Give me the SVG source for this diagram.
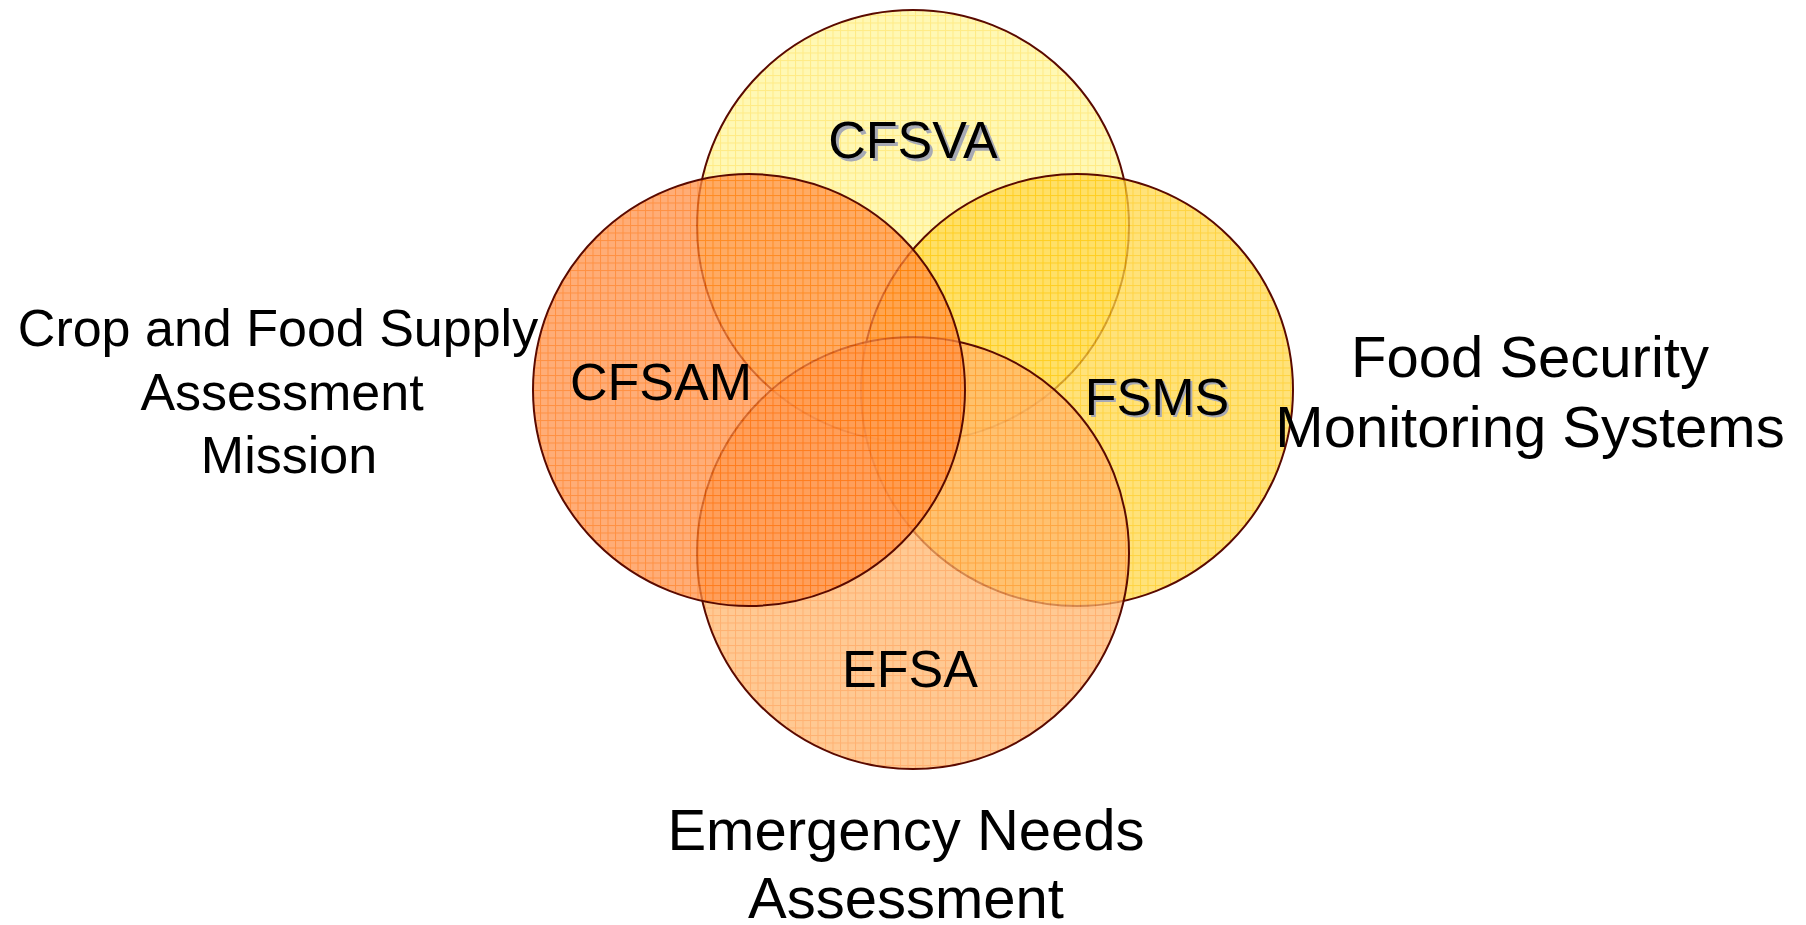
<svg xmlns="http://www.w3.org/2000/svg" width="1806" height="925" viewBox="0 0 1806 925">
<style>
  .circ { stroke: #5A0A00; stroke-width: 2; fill-opacity: 0.74; }
  .lbl { font-family: "Liberation Sans", Arial, sans-serif; font-size: 52px; fill: #000; text-anchor: middle; }
  .shadow { fill: #A7A9B4; }
  .outer { font-family: "Liberation Sans", Arial, sans-serif; fill: #000; text-anchor: middle; }
</style>
<defs>
  <pattern id="pTop" width="7.5" height="7.5" patternUnits="userSpaceOnUse">
    <rect width="7.5" height="7.5" fill="#FFF59A"/>
    <rect width="7.5" height="1" fill="#FFE45A"/>
    <rect width="1" height="7.5" fill="#FFE45A"/>
  </pattern>
  <pattern id="pRight" width="7.5" height="7.5" patternUnits="userSpaceOnUse">
    <rect width="7.5" height="7.5" fill="#FFD84C"/>
    <rect width="7.5" height="1" fill="#FFC400"/>
    <rect width="1" height="7.5" fill="#FFC400"/>
  </pattern>
  <pattern id="pBottom" width="7.5" height="7.5" patternUnits="userSpaceOnUse">
    <rect width="7.5" height="7.5" fill="#FFB66D"/>
    <rect width="7.5" height="1" fill="#FF9640"/>
    <rect width="1" height="7.5" fill="#FF9640"/>
  </pattern>
  <pattern id="pLeft" width="7.5" height="7.5" patternUnits="userSpaceOnUse">
    <rect width="7.5" height="7.5" fill="#FF9048"/>
    <rect width="7.5" height="1" fill="#FF6A00"/>
    <rect width="1" height="7.5" fill="#FF6A00"/>
  </pattern>
</defs>
<rect width="1806" height="925" fill="#FFFFFF"/>

<g id="cfsva">
  <circle class="circ" cx="913" cy="226" r="216" fill="url(#pTop)"/>
  <text class="lbl shadow" x="916" y="161">CFSVA</text>
  <text class="lbl" x="913" y="158">CFSVA</text>
</g>

<g id="fsms">
  <circle class="circ" cx="1077" cy="390" r="216" fill="url(#pRight)"/>
  <text class="lbl shadow" x="1159" y="417">FSMS</text>
  <text class="lbl" x="1157" y="415">FSMS</text>
  <text class="outer" font-size="58" x="1530" y="377">Food Security</text>
  <text class="outer" font-size="58" x="1530" y="447">Monitoring Systems</text>
</g>

<g id="efsa">
  <circle class="circ" cx="913" cy="553" r="216" fill="url(#pBottom)"/>
  <text class="lbl" x="910" y="687">EFSA</text>
  <text class="outer" font-size="58" x="906" y="850">Emergency Needs</text>
  <text class="outer" font-size="58" x="906" y="918">Assessment</text>
</g>

<g id="cfsam">
  <circle class="circ" cx="749" cy="390" r="216" fill="url(#pLeft)"/>
  <text class="lbl" x="661" y="400">CFSAM</text>
  <text class="outer" font-size="52" x="278" y="346">Crop and Food Supply</text>
  <text class="outer" font-size="52" x="282" y="410">Assessment</text>
  <text class="outer" font-size="52" x="289" y="473">Mission</text>
</g>
</svg>
